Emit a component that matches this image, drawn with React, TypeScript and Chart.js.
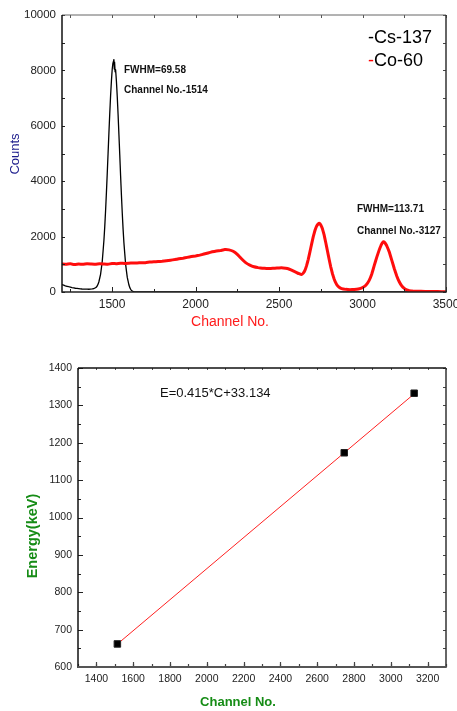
import { useEffect, useRef } from 'react';
import { Chart, registerables } from 'chart.js';

Chart.register(...registerables);

const SANS = '"Liberation Sans", Arial, Helvetica, sans-serif';

// Cs-137 gamma spectrum: channel number and counts
const csChannels = [
  1200, 1220, 1240, 1260, 1280, 1300, 1320, 1340, 1360, 1380, 1390, 1401, 1411, 1421, 1431,
  1441, 1451, 1456, 1461, 1466, 1471, 1476, 1481, 1486, 1491, 1496, 1501, 1505, 1508, 1511,
  1513, 1515, 1518, 1521, 1526, 1531, 1536, 1541, 1546, 1551, 1556, 1561, 1566, 1571, 1581,
  1591, 1601, 1611, 1621, 1635, 1660, 2000, 2500, 3000, 3500,
];
const csCounts = [
  270, 225, 190, 160, 135, 120, 108, 102, 100, 110, 125, 150, 220, 370, 640,
  1100, 1860, 2350, 2930, 3580, 4280, 5010, 5740, 6440, 7080, 7620, 8060, 8260, 8320, 8390,
  8050, 8300, 7950, 8030, 7600, 7050, 6400, 5680, 4950, 4200, 3490, 2840, 2260, 1765, 1005,
  526, 252, 100, 35, 8, 0, 0, 0, 0, 0,
];

// Co-60 gamma spectrum: channel number and counts
const coChannels = [
  1200, 1225, 1250, 1275, 1300, 1325, 1350, 1375, 1400, 1425, 1450, 1475, 1500, 1525, 1550,
  1575, 1600, 1625, 1650, 1675, 1700, 1725, 1750, 1775, 1800, 1825, 1850, 1875, 1900, 1925,
  1950, 1975, 2000, 2025, 2050, 2075, 2100, 2125, 2150, 2175, 2200, 2225, 2250, 2275, 2300,
  2325, 2350, 2375, 2400, 2425, 2450, 2475, 2500, 2525, 2550, 2575, 2600, 2620, 2635, 2645,
  2655, 2665, 2675, 2685, 2695, 2705, 2715, 2725, 2735, 2742, 2750, 2760, 2770, 2780, 2790,
  2800, 2810, 2820, 2830, 2840, 2850, 2860, 2875, 2900, 2925, 2950, 2975, 3000, 3020, 3040,
  3055, 3070, 3085, 3100, 3110, 3120, 3127, 3135, 3145, 3160, 3175, 3190, 3205, 3220, 3235,
  3250, 3265, 3280, 3300, 3350, 3400, 3450, 3500,
];
const coCounts = [
  1010, 1000, 1020, 990, 1010, 1000, 1020, 1010, 1000, 1020, 1010, 1000, 1030, 1020, 1040,
  1030, 1040, 1050, 1050, 1060, 1060, 1080, 1090, 1100, 1110, 1130, 1150, 1170, 1200, 1220,
  1250, 1280, 1300, 1330, 1370, 1410, 1450, 1480, 1500, 1530, 1520, 1470, 1360, 1200, 1060,
  970, 910, 880, 860, 850, 850, 860, 870, 870, 850, 790, 720, 660, 630, 680,
  780, 950, 1180, 1450, 1730, 2000, 2220, 2380, 2460, 2480, 2420, 2280, 2060, 1780, 1480,
  1180, 900, 660, 470, 330, 230, 170, 120, 95, 85, 90, 110, 160, 240, 420,
  640, 950, 1250, 1520, 1670, 1780, 1810, 1770, 1670, 1450, 1150, 850, 580, 370, 220,
  130, 75, 50, 35, 25, 18, 14, 12,
];

// Energy calibration: photopeak channels and gamma energies (keV)
const calibChannels = [1514, 2747, 3127];
const calibEnergies = [661.7, 1173.2, 1332.5];
// Linear fit E = a*C + b
const fitSlope = 0.415;
const fitIntercept = 33.134;

// Tick labels
const spectrumXTicks = [1500, 2000, 2500, 3000, 3500];
const spectrumYTicks = [0, 2000, 4000, 6000, 8000, 10000];
const calibXTicks = [1400, 1600, 1800, 2000, 2200, 2400, 2600, 2800, 3000, 3200];
const calibYTicks = [600, 700, 800, 900, 1000, 1100, 1200, 1300, 1400];

type Side = 'top' | 'bottom' | 'left' | 'right';
type Line = { color: string; width: number };
type TickSpec = { side: Side; step: number; len: number; color: string; width: number };

// Draws the box around the plot and the inward-pointing tick marks
function makeFramePlugin(sides: Record<Side, Line>, ticks: TickSpec[]) {
  return {
    id: 'frame',
    afterDatasetsDraw(chart: any) {
      const { ctx, chartArea: a, scales } = chart;
      ctx.save();
      for (const t of ticks) {
        const horiz = t.side === 'top' || t.side === 'bottom';
        const sc = horiz ? scales.x : scales.y;
        const first = Math.ceil(sc.min / t.step - 1e-9) * t.step;
        ctx.strokeStyle = t.color;
        ctx.lineWidth = t.width;
        ctx.beginPath();
        for (let v = first; v <= sc.max + 1e-9; v += t.step) {
          const p = Math.round(sc.getPixelForValue(v)) + 0.5;
          if (t.side === 'bottom') { ctx.moveTo(p, a.bottom); ctx.lineTo(p, a.bottom - t.len); }
          if (t.side === 'top') { ctx.moveTo(p, a.top); ctx.lineTo(p, a.top + t.len); }
          if (t.side === 'left') { ctx.moveTo(a.left, p); ctx.lineTo(a.left + t.len, p); }
          if (t.side === 'right') { ctx.moveTo(a.right, p); ctx.lineTo(a.right - t.len, p); }
        }
        ctx.stroke();
      }
      const seg = (s: Line, x1: number, y1: number, x2: number, y2: number) => {
        ctx.strokeStyle = s.color;
        ctx.lineWidth = s.width;
        ctx.beginPath();
        ctx.moveTo(x1, y1);
        ctx.lineTo(x2, y2);
        ctx.stroke();
      };
      seg(sides.top, a.left, a.top, a.right, a.top);
      seg(sides.right, a.right, a.top, a.right, a.bottom);
      seg(sides.left, a.left, a.top, a.left, a.bottom + sides.bottom.width / 2);
      seg(sides.bottom, a.left, a.bottom, a.right + sides.right.width / 2, a.bottom);
      ctx.restore();
    },
  };
}

type TextPart = { text: string; color: string };
type TextItem = { parts: TextPart[]; x: number; y: number; font: string; align?: 'left' | 'center'; rotate?: number };

// Free text: axis titles, legend entries and peak notes
function makeTextPlugin(items: TextItem[]) {
  return {
    id: 'texts',
    afterDraw(chart: any) {
      const ctx = chart.ctx;
      for (const item of items) {
        ctx.save();
        ctx.font = item.font;
        ctx.textBaseline = 'middle';
        ctx.textAlign = 'left';
        ctx.translate(item.x, item.y);
        if (item.rotate) ctx.rotate(item.rotate);
        const total = item.parts.reduce((s, p) => s + ctx.measureText(p.text).width, 0);
        let x = item.align === 'center' ? -total / 2 : 0;
        for (const p of item.parts) {
          ctx.fillStyle = p.color;
          ctx.fillText(p.text, x, 0);
          x += ctx.measureText(p.text).width;
        }
        ctx.restore();
      }
    },
  };
}

const toPoints = (xs: number[], ys: number[]) => xs.map((x, i) => ({ x, y: ys[i] }));
const plain = (v: number | string) => String(v);

function spectrumChart(canvas: HTMLCanvasElement) {
  const frame = makeFramePlugin(
    {
      top: { color: '#666', width: 1 },
      bottom: { color: '#222', width: 1.5 },
      left: { color: '#111', width: 1.5 },
      right: { color: '#333', width: 1.5 },
    },
    [
      { side: 'bottom', step: 500, len: 5, color: '#222', width: 1 },
      { side: 'bottom', step: 250, len: 3, color: '#222', width: 1 },
      { side: 'top', step: 250, len: 3, color: '#555', width: 1 },
      { side: 'left', step: 1000, len: 3, color: '#222', width: 1 },
      { side: 'right', step: 1000, len: 3, color: '#444', width: 1 },
    ],
  );
  const bold = `bold 10px ${SANS}`;
  const texts = makeTextPlugin([
    { parts: [{ text: 'FWHM=69.58', color: '#111' }], x: 124, y: 70, font: bold },
    { parts: [{ text: 'Channel No.-1514', color: '#111' }], x: 124, y: 90.5, font: bold },
    { parts: [{ text: 'FWHM=113.71', color: '#111' }], x: 357, y: 209.5, font: bold },
    { parts: [{ text: 'Channel No.-3127', color: '#111' }], x: 357, y: 231, font: bold },
    { parts: [{ text: '-Cs-137', color: '#000' }], x: 368, y: 38.5, font: `18px ${SANS}` },
    { parts: [{ text: '-', color: '#ff0000' }, { text: 'Co-60', color: '#000' }], x: 368, y: 61.5, font: `18px ${SANS}` },
    { parts: [{ text: 'Channel No.', color: '#ff1a1a' }], x: 230, y: 322, font: `14px ${SANS}`, align: 'center' },
    { parts: [{ text: 'Counts', color: '#1c1c8c' }], x: 15.5, y: 154, font: `13px ${SANS}`, align: 'center', rotate: -Math.PI / 2 },
  ]);
  return new Chart(canvas, {
    type: 'line',
    data: {
      datasets: [
        {
          label: 'Co-60',
          data: toPoints(coChannels, coCounts),
          borderColor: '#ff0d0d',
          borderWidth: 3,
          pointRadius: 0,
          tension: 0.05,
          order: 0,
        },
        {
          label: 'Cs-137',
          data: toPoints(csChannels, csCounts),
          borderColor: '#000',
          borderWidth: 1.3,
          pointRadius: 0,
          tension: 0.05,
          order: 1,
        },
      ],
    },
    options: {
      responsive: false,
      animation: false,
      devicePixelRatio: 1,
      layout: { padding: { left: 0, top: 15, right: 11, bottom: 0 } },
      plugins: { legend: { display: false }, tooltip: { enabled: false } },
      scales: {
        x: {
          type: 'linear',
          min: 1200,
          max: 3500,
          grid: { display: false, drawTicks: false },
          border: { display: false },
          ticks: { padding: 5, maxRotation: 0, color: '#222', font: { family: SANS, size: 12 }, callback: plain },
          afterBuildTicks: (s: any) => { s.ticks = spectrumXTicks.map((value) => ({ value })); },
          afterFit: (s: any) => { s.height = 48; s.paddingLeft = 0; s.paddingRight = 0; },
        },
        y: {
          type: 'linear',
          min: 0,
          max: 10000,
          grid: { display: false, drawTicks: false },
          border: { display: false },
          ticks: { padding: 6, color: '#222', font: { family: SANS, size: 11.5 }, callback: plain },
          afterBuildTicks: (s: any) => { s.ticks = spectrumYTicks.map((value) => ({ value })); },
          afterFit: (s: any) => { s.width = 62; s.paddingTop = 0; s.paddingBottom = 0; },
        },
      },
    },
    plugins: [frame, texts],
  } as any);
}

function calibrationChart(canvas: HTMLCanvasElement) {
  const frame = makeFramePlugin(
    {
      top: { color: '#111', width: 1.3 },
      bottom: { color: '#555', width: 2 },
      left: { color: '#111', width: 1.5 },
      right: { color: '#333', width: 1.5 },
    },
    [
      { side: 'bottom', step: 200, len: 5, color: '#444', width: 1.2 },
      { side: 'bottom', step: 100, len: 3, color: '#444', width: 1.2 },
      { side: 'top', step: 100, len: 2, color: '#555', width: 1 },
      { side: 'left', step: 100, len: 5, color: '#222', width: 1 },
      { side: 'left', step: 50, len: 3, color: '#222', width: 1 },
      { side: 'right', step: 50, len: 3, color: '#444', width: 1 },
    ],
  );
  const green = '#168c16';
  const texts = makeTextPlugin([
    { parts: [{ text: `E=${fitSlope}*C+${fitIntercept}`, color: '#111' }], x: 160, y: 53.3, font: `13px ${SANS}` },
    { parts: [{ text: 'Energy(keV)', color: green }], x: 33.3, y: 196, font: `bold 14.5px ${SANS}`, align: 'center', rotate: -Math.PI / 2 },
    { parts: [{ text: 'Channel No.', color: green }], x: 238, y: 362.7, font: `bold 13px ${SANS}`, align: 'center' },
  ]);
  const first = calibChannels[0];
  const last = calibChannels[calibChannels.length - 1];
  const fitLine = [
    { x: first, y: fitSlope * first + fitIntercept },
    { x: last, y: fitSlope * last + fitIntercept },
  ];
  return new Chart(canvas, {
    type: 'scatter',
    data: {
      datasets: [
        {
          label: 'Measured',
          data: toPoints(calibChannels, calibEnergies),
          pointStyle: 'rect',
          pointRadius: 4.6,
          backgroundColor: '#000',
          borderColor: '#222',
          borderWidth: 1,
          order: 0,
        },
        {
          label: 'Linear fit',
          data: fitLine,
          showLine: true,
          borderColor: '#ff2020',
          borderWidth: 1,
          pointRadius: 0,
          order: 1,
        },
      ],
    },
    options: {
      responsive: false,
      animation: false,
      devicePixelRatio: 1,
      layout: { padding: { left: 0, top: 28, right: 11, bottom: 0 } },
      plugins: { legend: { display: false }, tooltip: { enabled: false } },
      scales: {
        x: {
          type: 'linear',
          min: 1300,
          max: 3300,
          grid: { display: false, drawTicks: false },
          border: { display: false },
          ticks: { padding: 6, maxRotation: 0, color: '#222', font: { family: SANS, size: 10.5 }, callback: plain },
          afterBuildTicks: (s: any) => { s.ticks = calibXTicks.map((value) => ({ value })); },
          afterFit: (s: any) => { s.height = 44; s.paddingLeft = 0; s.paddingRight = 0; },
        },
        y: {
          type: 'linear',
          min: 600,
          max: 1400,
          grid: { display: false, drawTicks: false },
          border: { display: false },
          ticks: { padding: 6, color: '#222', font: { family: SANS, size: 10.5 }, callback: plain },
          afterBuildTicks: (s: any) => { s.ticks = calibYTicks.map((value) => ({ value })); },
          afterFit: (s: any) => { s.width = 78; s.paddingTop = 0; s.paddingBottom = 0; },
        },
      },
    },
    plugins: [frame, texts],
  } as any);
}

export default function App() {
  const topRef = useRef<HTMLCanvasElement>(null);
  const bottomRef = useRef<HTMLCanvasElement>(null);

  useEffect(() => {
    if (!topRef.current || !bottomRef.current) return;
    const a = spectrumChart(topRef.current);
    const b = calibrationChart(bottomRef.current);
    return () => {
      a.destroy();
      b.destroy();
    };
  }, []);

  return (
    <div style={{ position: 'absolute', left: 0, top: 0, width: 457, height: 711, background: '#fff' }}>
      <canvas ref={topRef} width={457} height={340} style={{ position: 'absolute', left: 0, top: 0, display: 'block' }} />
      <canvas ref={bottomRef} width={457} height={371} style={{ position: 'absolute', left: 0, top: 340, display: 'block' }} />
    </div>
  );
}
